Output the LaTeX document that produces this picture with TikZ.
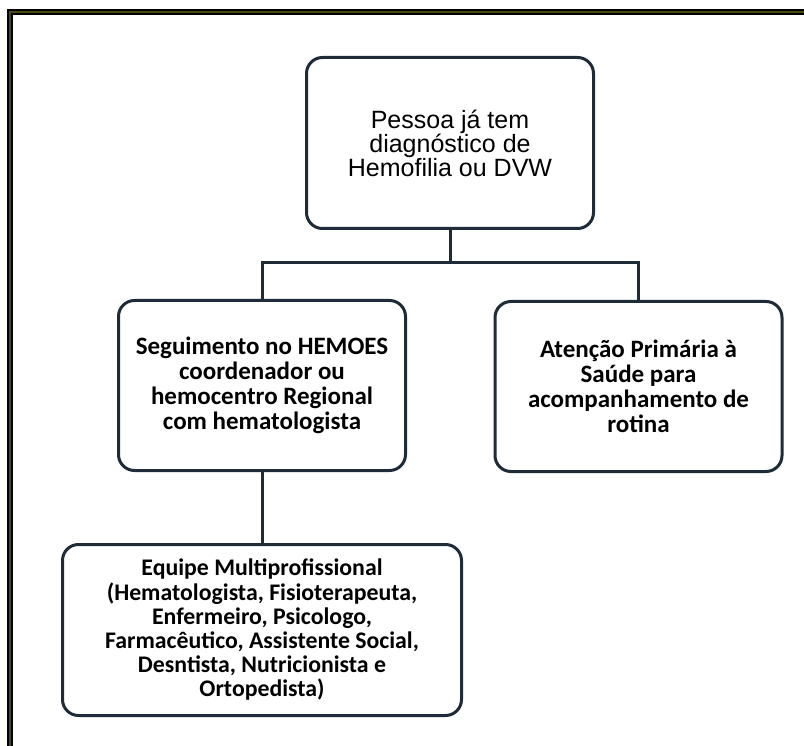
\documentclass[tikz,border=0pt]{standalone}
\usepackage{fontspec}
\setmainfont{Carlito}
\newfontfamily\arialfont{Liberation Sans}
\usepackage{xcolor}
\usetikzlibrary{positioning, calc}

\definecolor{boxline}{HTML}{1E2B38}
\definecolor{frameolive}{HTML}{4A4A10}

\begin{document}
\begin{tikzpicture}[
    x=1pt, y=-1pt,
    box/.style={draw=boxline, line width=3pt, rounded corners=16pt, align=center, inner sep=2pt},
    rootbox/.style={box, minimum width=287pt, minimum height=171pt, font=\arialfont\fontsize{25}{23.5}\selectfont},
    midbox/.style={box, minimum width=287pt, minimum height=170pt, font=\bfseries\fontsize{25}{25}\selectfont},
    teambox/.style={box, minimum width=399pt, minimum height=171pt, font=\bfseries\fontsize{23.8}{24.2}\selectfont},
    link/.style={draw=boxline, line width=3pt},
  ]
  \useasboundingbox (0,0) rectangle (804,746);
  \fill[white] (0,0) rectangle (804,746);
  % frame, cut at the right and bottom
  \draw[black, line width=6pt] (10,746) -- (10,12) -- (804,12);
  \draw[frameolive, line width=1.5pt] (10,746) -- (10,12) -- (804,12);

  \node[rootbox] (root) at (450,143) {Pessoa já tem\\diagnóstico de\\Hemofilia ou DVW};
  \node[midbox] (seg) at (262,385.5) {Seguimento no HEMOES\\coordenador ou\\hemocentro Regional\\com hematologista};
  \node[midbox] (aps) at (638.5,386.5) {Atenção Primária à\\Saúde para\\acompanhamento de\\rotina};
  \node[teambox, below=71pt of seg] (team) {Equipe Multiprofissional\\(Hematologista, Fisioterapeuta,\\Enfermeiro, Psicologo,\\Farmacêutico, Assistente Social,\\Desntista, Nutricionista e\\Ortopedista)};

  \coordinate (split) at ($(root.south)+(0,33)$);
  \draw[link] (root.south) -- (split);
  \draw[link] (seg.north) |- (split) -| (aps.north);
  \draw[link] (seg.south) -- (team.north);
\end{tikzpicture}
\end{document}
